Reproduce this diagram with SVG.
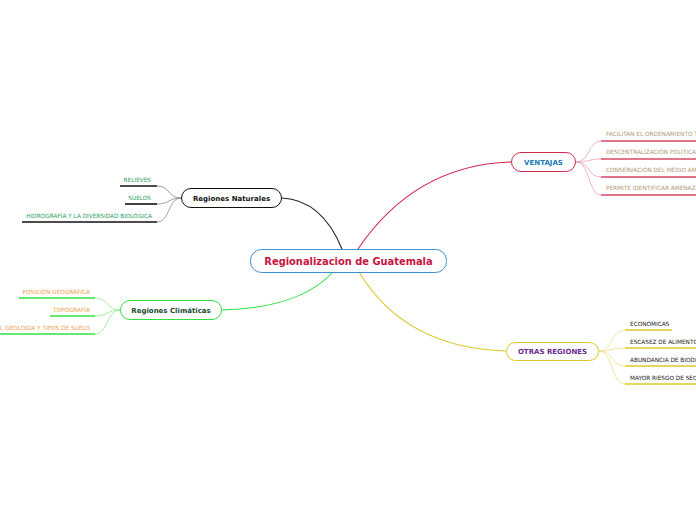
<svg xmlns="http://www.w3.org/2000/svg" width="696" height="520" viewBox="0 0 696 520">
<style>
text{font-family:"DejaVu Sans","Liberation Sans",sans-serif}
.main{font-size:9.9px;font-weight:bold;fill:#c8143c}
.n{font-size:7px;font-weight:bold}
.s{font-size:5.75px}
.box{fill:#fff;stroke-width:1}
.c{fill:none;stroke-width:1.1}
.sc{fill:none;stroke-width:0.8}
.ul{stroke-width:1.6}
</style>
<rect width="696" height="520" fill="#fff"/>
<g id="connectors">
<path class="c" stroke="#222" d="M342,249 Q322,200 282,198"/>
<path class="c" stroke="#d42a50" d="M358,249 Q415,165 511,162"/>
<path class="c" stroke="#30e040" d="M333,272 Q300,308 222,310"/>
<path class="c" stroke="#dcc828" d="M359,272 Q405,348 506,351"/>
<g stroke="#888">
<path class="sc" d="M181,198 C168,198 170,186 157,186"/>
<path class="sc" d="M181,198 C168,198 170,204 157,204"/>
<path class="sc" d="M181,198 C168,198 170,222 157,222"/>
</g>
<g stroke="#90ee90">
<path class="sc" d="M120,310 C107,310 108,298 95,298"/>
<path class="sc" d="M120,310 C107,310 108,316 95,316"/>
<path class="sc" d="M120,310 C107,310 108,334 95,334"/>
</g>
<g stroke="#eea0b0">
<path class="sc" d="M576,162 C590,162 588,141 601,141"/>
<path class="sc" d="M576,162 C590,162 588,159 601,159"/>
<path class="sc" d="M576,162 C590,162 588,177 601,177"/>
<path class="sc" d="M576,162 C590,162 588,195 601,195"/>
</g>
<g stroke="#eee08a">
<path class="sc" d="M599,351 C613,351 611,330 625,330"/>
<path class="sc" d="M599,351 C613,351 611,348 625,348"/>
<path class="sc" d="M599,351 C613,351 611,366 625,366"/>
<path class="sc" d="M599,351 C613,351 611,384 625,384"/>
</g>
</g>
<g id="central">
<rect class="box" x="250.5" y="249.5" width="196" height="23" rx="11" stroke="#3a90d0"/>
<text class="main" x="348.5" y="264.5" text-anchor="middle">Regionalizacion de Guatemala</text>
</g>
<g id="naturales">
<rect class="box" x="181.5" y="188.5" width="100" height="19" rx="9.5" stroke="#111"/>
<text class="n" x="231.5" y="200.5" text-anchor="middle" fill="#111">Regiones Naturales</text>
</g>
<g id="relieves">
<text class="s" x="151" y="182" text-anchor="end" fill="#2aa060">RELIEVES</text>
<line class="ul" x1="120" y1="186" x2="157" y2="186" stroke="#111"/>
</g>
<g id="suelos">
<text class="s" x="151" y="200" text-anchor="end" fill="#2aa060">SUELOS</text>
<line class="ul" x1="125" y1="204" x2="157" y2="204" stroke="#111"/>
</g>
<g id="hidrografia">
<text class="s" x="152" y="218" text-anchor="end" fill="#2aa060">HIDROGRAFÍA Y LA DIVERSIDAD BIOLÓGICA</text>
<line class="ul" x1="22" y1="222" x2="157" y2="222" stroke="#111"/>
</g>
<g id="climaticas">
<rect class="box" x="120.5" y="300.5" width="101" height="19" rx="9.5" stroke="#30e040"/>
<text class="n" x="171" y="312.5" text-anchor="middle" fill="#1a4a30">Regiones Climáticas</text>
</g>
<g id="posicion">
<text class="s" x="90" y="294" text-anchor="end" fill="#f0a050">POSICIÓN GEOGRÁFICA</text>
<line class="ul" x1="19" y1="298" x2="95" y2="298" stroke="#30e040"/>
</g>
<g id="topografia">
<text class="s" x="90" y="312" text-anchor="end" fill="#f0a050">TOPOGRAFÍA</text>
<line class="ul" x1="50" y1="316" x2="95" y2="316" stroke="#30e040"/>
</g>
<g id="geologia">
<text class="s" x="90" y="330" text-anchor="end" fill="#f0a050">VEGETACIÓN, GEOLOGÍA Y TIPOS DE SUELO</text>
<line class="ul" x1="0" y1="334" x2="95" y2="334" stroke="#30e040"/>
</g>
<g id="ventajas">
<rect class="box" x="511.5" y="152.5" width="64" height="19" rx="9.5" stroke="#d42a50"/>
<text class="n" x="543.5" y="164.5" text-anchor="middle" fill="#1a7ab8">VENTAJAS</text>
</g>
<g id="v1">
<text class="s" x="606" y="136" fill="#b09a78">FACILITAN EL ORDENAMIENTO TERRITORIAL</text>
<line class="ul" x1="601" y1="141" x2="696" y2="141" stroke="#d44a60"/>
</g>
<g id="v2">
<text class="s" x="606" y="154" fill="#b09a78">DESCENTRALIZACIÓN POLITICA Y ADMINISTRATIVA</text>
<line class="ul" x1="601" y1="159" x2="696" y2="159" stroke="#d44a60"/>
</g>
<g id="v3">
<text class="s" x="606" y="172" fill="#b09a78">CONSERVACIÓN DEL MEDIO AMBIENTE</text>
<line class="ul" x1="601" y1="177" x2="696" y2="177" stroke="#d44a60"/>
</g>
<g id="v4">
<text class="s" x="606" y="190" fill="#b09a78">PERMITE IDENTIFICAR AMENAZAS</text>
<line class="ul" x1="601" y1="195" x2="696" y2="195" stroke="#d44a60"/>
</g>
<g id="otras">
<rect class="box" x="506.5" y="342.5" width="92" height="18" rx="9" stroke="#dcc828"/>
<text class="n" x="552.5" y="354" text-anchor="middle" fill="#6a2a90">OTRAS REGIONES</text>
</g>
<g id="o1">
<text class="s" x="630" y="326" fill="#222">ECONÓMICAS</text>
<line class="ul" x1="625" y1="330" x2="672" y2="330" stroke="#dcc828"/>
</g>
<g id="o2">
<text class="s" x="630" y="344" fill="#222">ESCASEZ DE ALIMENTOS</text>
<line class="ul" x1="625" y1="348" x2="696" y2="348" stroke="#dcc828"/>
</g>
<g id="o3">
<text class="s" x="630" y="362" fill="#222">ABUNDANCIA DE BIODIVERSIDAD</text>
<line class="ul" x1="625" y1="366" x2="696" y2="366" stroke="#dcc828"/>
</g>
<g id="o4">
<text class="s" x="630" y="380" fill="#222">MAYOR RIESGO DE SEQUÍAS</text>
<line class="ul" x1="625" y1="384" x2="696" y2="384" stroke="#dcc828"/>
</g>
</svg>
